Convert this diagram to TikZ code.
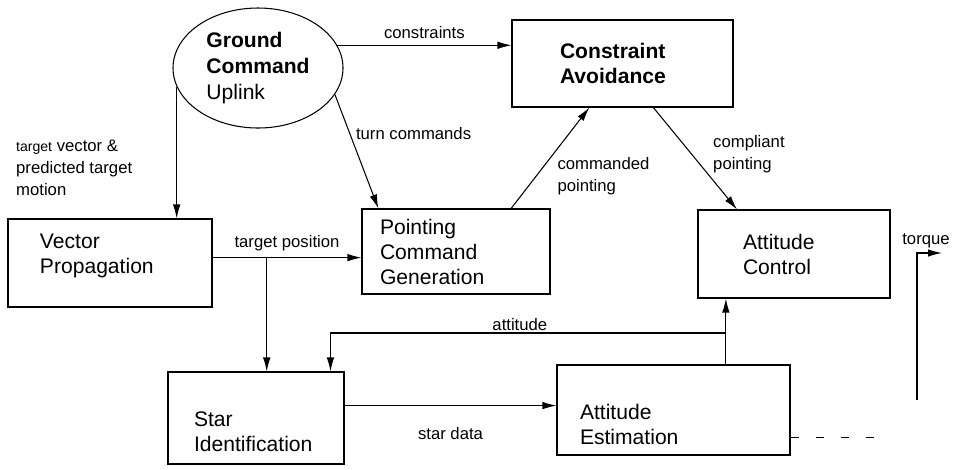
\documentclass[tikz,border=0pt]{standalone}
\usepackage{fontspec}
\setmainfont{Liberation Sans}
\usetikzlibrary{shapes.geometric, arrows.meta}

\begin{document}
\begin{tikzpicture}[x=0.2mm, y=-0.2mm,
  box/.style={shape=rectangle, draw=black, semithick, align=left, inner sep=0pt, font=\fontsize{12}{14.2}\selectfont},
  lbl/.style={font=\fontsize{9.5}{12.5}\selectfont, align=left},
  flow/.style={-{Latex[length=2.8mm, width=1.5mm]}, semithick, draw=black}]
\useasboundingbox (0,0) rectangle (953,469);
\node[shape=ellipse, draw=black, semithick, minimum width=34mm, minimum height=24mm, inner sep=0pt, align=left, font=\fontsize{12}{14.8}\selectfont] (gcu) at (258,68) {\textbf{Ground}\\ \textbf{Command}\\ Uplink};
\node[box, font=\bfseries\fontsize{12}{14.2}\selectfont, minimum width=44.2mm, minimum height=17.4mm, text width=25mm] (cav) at (622.5,63.5) {Constraint\\ Avoidance};
\node[box, minimum width=40.8mm, minimum height=17.6mm, text width=28mm] (vp) at (110,263) {Vector\\ Propagation\rule[-11pt]{0pt}{0pt}};
\node[box, minimum width=37.6mm, minimum height=17mm, text width=30.4mm] (pcg) at (456,251.5) {Pointing\\ Command\\ Generation};
\node[box, minimum width=38.4mm, minimum height=17.6mm, text width=20.4mm] (ac) at (794,254) {Attitude\\ Control};
\node[box, minimum width=35.2mm, minimum height=18.4mm, text width=24.8mm] (si) at (256,418) {\rule{0pt}{24pt}Star\\ Identification};
\node[box, minimum width=46.6mm, minimum height=18mm, text width=37.4mm] (ae) at (673.5,410) {\rule{0pt}{25pt}Attitude\\ Estimation};
\node[lbl, anchor=west] (tvl) at (10,168) {{\fontsize{8}{12.5}\selectfont target} vector \&\\ predicted target\\ motion};
\node[lbl] (tql) at (926,241) {torque};
\coordinate (fb) at (725,333);
\coordinate (tq) at (917,400);
\coordinate (tqend) at (942,253);
% uplink
\path (gcu.16) edge[flow] node[lbl, above] {constraints} (gcu.16 -| cav.west);
\path (gcu.-19) edge[flow] node[lbl, right, pos=0.34] {turn commands} (pcg.151);
\path (gcu.-167) edge[flow] (gcu.-167 |- vp.north);
% pointing chain
\path (vp.3) edge[flow] node[lbl, above] {target position} (vp.3 -| pcg.west);
\path (si.77 |- vp.3) edge[flow] (si.77);
\path (pcg.38) edge[flow] node[lbl, right=3mm, pos=0.32] {commanded\\ pointing} (cav.-127);
\path (cav.-55) edge[flow] node[lbl, right=3mm, pos=0.46] {compliant\\ pointing} (ac.142);
% estimation loop
\path (si.8) edge[flow] node[lbl, below=3mm] {star data} (si.8 -| ae.west);
\path (ae.41) edge[flow] (ae.41 |- ac.south);
\draw [flow] (fb) -| node[lbl, above, inner sep=1pt, pos=0.26] {attitude} (si.32);
\draw [semithick, dashed, dash pattern=on 1.6mm off 3.4mm] (ae.-13.5) -- ++(100,0);
\draw [flow] (tq) |- (tqend);
\end{tikzpicture}
\end{document}
